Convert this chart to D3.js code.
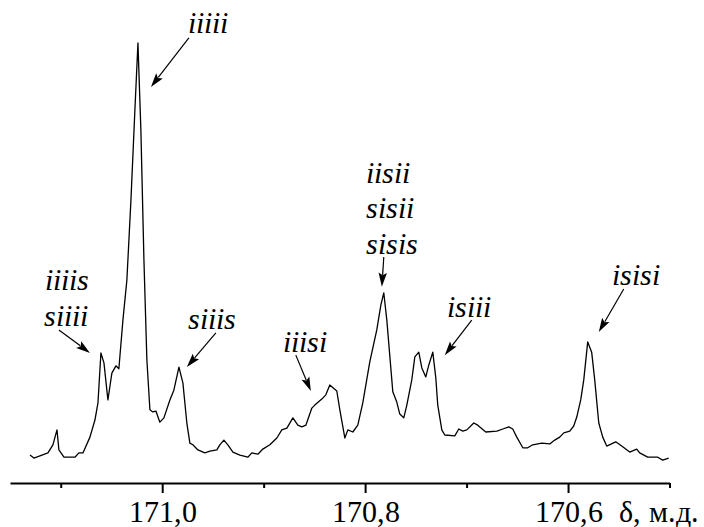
<!DOCTYPE html>
<html>
<head>
<meta charset="utf-8">
<script src="https://cdn.jsdelivr.net/npm/d3@7"></script>
<style>
  @font-face { font-family: "RefSerif"; font-style: normal; font-weight: 400;
    src: local("Liberation Serif"), local("LiberationSerif"), local("Liberation Serif Regular"), local("Times New Roman"); }
  @font-face { font-family: "RefSerif"; font-style: italic; font-weight: 400;
    src: local("Liberation Serif Italic"), local("LiberationSerif-Italic"), local("Times New Roman Italic"); }
  body { margin: 0; }
</style>
</head>
<body>
<svg id="chart" width="704" height="527"></svg>
<script>
// Chemical shift (ppm) of each trace point
const shiftPpm = [
  171.1303,171.1264,171.1205,171.1126,171.1077,171.1037,171.1018,171.0968,171.0860,171.0821,
  171.0781,171.0712,171.0663,171.0633,171.0604,171.0574,171.0535,171.0496,171.0456,171.0427,
  171.0387,171.0348,171.0308,171.0269,171.0239,171.0210,171.0180,171.0151,171.0121,171.0092,
  171.0062,171.0023,170.9983,170.9924,170.9885,170.9835,170.9796,170.9757,170.9727,170.9698,
  170.9648,170.9579,170.9530,170.9461,170.9432,170.9392,170.9353,170.9303,170.9234,170.9156,
  170.9116,170.9057,170.9008,170.8939,170.8870,170.8821,170.8771,170.8712,170.8663,170.8624,
  170.8584,170.8525,170.8496,170.8427,170.8387,170.8348,170.8279,170.8249,170.8200,170.8170,
  170.8121,170.8072,170.8023,170.7954,170.7885,170.7845,170.7816,170.7786,170.7727,170.7688,
  170.7658,170.7619,170.7589,170.7540,170.7510,170.7471,170.7441,170.7402,170.7372,170.7333,
  170.7303,170.7284,170.7244,170.7215,170.7116,170.7077,170.7037,170.6998,170.6929,170.6890,
  170.6811,170.6702,170.6643,170.6584,170.6545,170.6505,170.6446,170.6397,170.6348,170.6259,
  170.6180,170.6131,170.6082,170.6042,170.5983,170.5944,170.5914,170.5875,170.5845,170.5806,
  170.5767,170.5737,170.5697,170.5658,170.5619,170.5530,170.5471,170.5392,170.5323,170.5294,
  170.5215,170.5116,170.5067,170.5008
];
// Relative intensity of each trace point (tallest peak = 100)
const intensity = [
  3.5,2.8,3.3,4.0,5.9,9.4,4.7,3.0,3.0,4.0,
  4.0,7.7,11.7,15.7,27.4,25.1,16.4,22.7,24.4,23.7,
  35.1,44.5,63.2,84.3,100,79.6,49.2,25.8,14.1,13.6,
  13.8,11.2,12.2,16.4,18.7,24.1,20.4,11.0,6.3,5.9,
  4.7,4.0,4.4,4.7,5.9,7.0,5.9,4.2,3.5,3.0,
  4.0,3.7,4.9,5.9,7.5,9.4,9.8,12.2,10.5,10.1,
  10.5,14.5,15.2,16.6,17.6,19.9,18.5,14.1,7.5,9.4,
  8.9,10.5,15.7,25.3,32.8,38.6,41.5,35.1,18.3,15.9,
  13.1,12.2,15.2,21.1,26.5,27.6,23.9,21.8,24.6,27.6,
  21.5,15.2,9.4,8.2,8.0,9.6,9.1,9.4,11.0,10.5,
  8.9,9.1,9.6,10.1,9.6,7.7,5.2,5.2,5.9,6.3,
  6.1,7.0,7.7,8.7,9.1,10.3,12.4,16.4,21.1,30.0,
  27.6,21.1,11.0,7.7,5.6,6.6,5.6,4.2,4.9,4.0,
  3.0,3.0,2.3,2.8
];

// Axis ticks
const majorTicks = [171.0, 170.8, 170.6];
const minorTicks = [171.1, 170.9, 170.7, 170.5];
const axisTitle = "δ, м.д.";

// Annotation labels: text, left position (ppm), baseline (intensity)
const labelText = ["iiiii", "iiiis", "siiii", "siiis", "iiisi", "iisii", "sisii", "sisis", "isiii", "isisi"];
const labelPpm  = [170.9747, 171.1156, 171.1166, 170.9747, 170.8811, 170.7993, 170.7993, 170.7993, 170.7195, 170.5569];
const labelInt  = [102.3, 42.2, 33.7, 33.0, 27.6, 67.2, 59.0, 50.6, 35.8, 43.3];

// Arrows: start (ppm, intensity) -> tip (ppm, intensity)
const arrowFromPpm = [170.9737, 171.1018, 170.9471, 170.8683, 170.7816, 170.6949, 170.5451];
const arrowFromInt = [101.2, 32.8, 32.1, 26.9, 49.9, 35.1, 42.4];
const arrowToPpm   = [171.0111, 171.0712, 170.9757, 170.8535, 170.7835, 170.7215, 170.5697];
const arrowToInt   = [89.7, 27.4, 24.1, 18.5, 42.9, 26.9, 32.3];

const FONT = "RefSerif";
const svg = d3.select("#chart");
const axisY = 483;

const x = d3.scaleLinear().domain([171.15, 170.5]).range([10, 669.5]);
const y = d3.scaleLinear().domain([0, 100]).range([470, 43]);

function serif(sel, italic) {
  sel.attr("font-family", FONT).attr("font-size", 30)
     .style("font-family", `"${FONT}"`).style("font-size", "30px");
  if (italic) sel.attr("font-style", "italic").style("font-style", "italic");
  return sel;
}

// Spectrum trace
const pts = shiftPpm.map((p, i) => [p, intensity[i]]);
svg.append("path")
  .datum(pts)
  .attr("fill", "none")
  .attr("stroke", "#000")
  .attr("stroke-width", 1.3)
  .attr("stroke-linejoin", "round")
  .attr("d", d3.line().x(d => x(d[0])).y(d => y(d[1])));

// Axis
const axis = d3.axisBottom(x)
  .tickValues(majorTicks.concat(minorTicks))
  .tickSize(10)
  .tickSizeOuter(0)
  .tickPadding(8)
  .tickFormat(d => majorTicks.includes(d) ? d.toFixed(1).replace(".", ",") : "");

const gAxis = svg.append("g")
  .attr("transform", `translate(0,${axisY})`)
  .call(axis)
  .attr("font-family", FONT)
  .attr("font-size", 30);
gAxis.select(".domain").attr("stroke", "#000").attr("stroke-width", 2);
gAxis.selectAll(".tick line").attr("stroke", "#000").attr("stroke-width", 2)
  .attr("y2", d => majorTicks.includes(d) ? 10 : 5);
serif(gAxis.selectAll(".tick text").attr("fill", "#000"), false);

serif(svg.append("text")
  .attr("x", 619).attr("y", 522)
  .attr("fill", "#000")
  .text(axisTitle), false);

// Labels
serif(svg.append("g").selectAll("text")
  .data(labelText)
  .join("text")
  .attr("x", (d, i) => x(labelPpm[i]))
  .attr("y", (d, i) => y(labelInt[i]))
  .attr("fill", "#000")
  .text(d => d), true);

// Arrows (line + filled head)
const arrows = svg.append("g");
arrowFromPpm.forEach((d, i) => {
  const x1 = x(arrowFromPpm[i]), y1 = y(arrowFromInt[i]);
  const x2 = x(arrowToPpm[i]), y2 = y(arrowToInt[i]);
  const ang = Math.atan2(y2 - y1, x2 - x1);
  const L = 14, W = 4.2;
  const bx = x2 - L * Math.cos(ang), by = y2 - L * Math.sin(ang);
  arrows.append("line")
    .attr("x1", x1).attr("y1", y1).attr("x2", bx + 2 * Math.cos(ang)).attr("y2", by + 2 * Math.sin(ang))
    .attr("stroke", "#000").attr("stroke-width", 1.2);
  const px = -Math.sin(ang), py = Math.cos(ang);
  arrows.append("path")
    .attr("d", `M${x2},${y2}L${bx + W * px},${by + W * py}L${bx + 2.5 * Math.cos(ang)},${by + 2.5 * Math.sin(ang)}L${bx - W * px},${by - W * py}Z`)
    .attr("fill", "#000");
});
</script>
</body>
</html>
